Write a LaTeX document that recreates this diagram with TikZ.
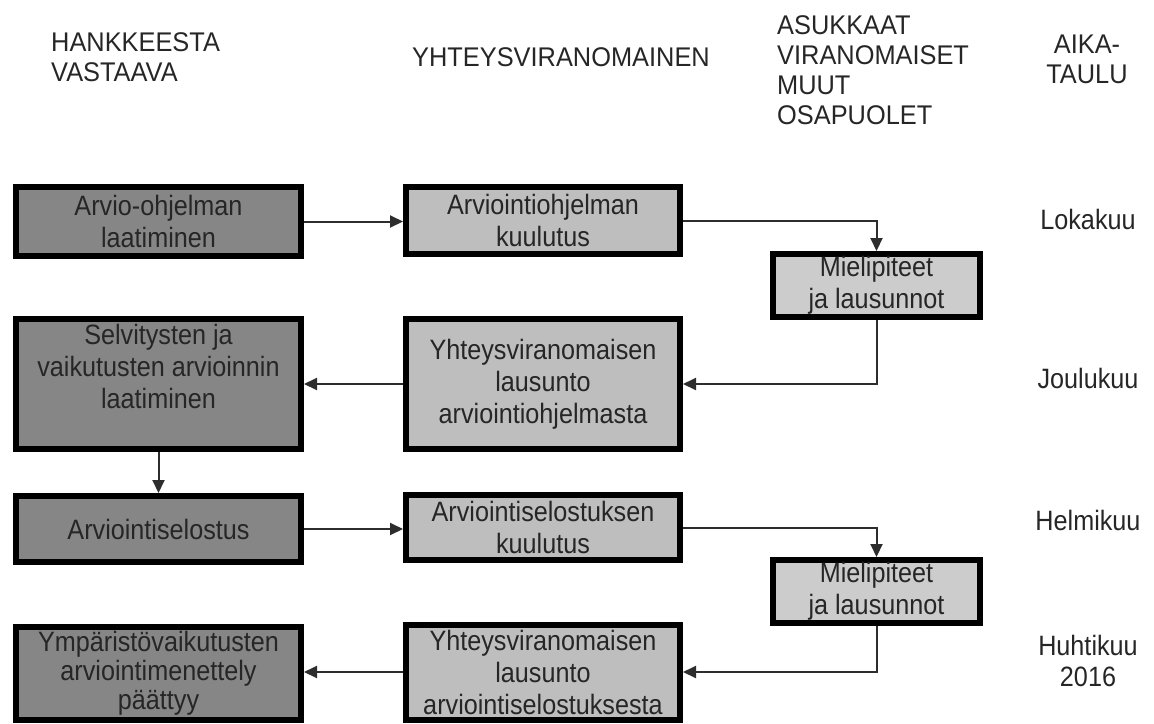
\documentclass[tikz,border=0pt]{standalone}
\usepackage{fontspec}
\setmainfont{Liberation Sans}
\newfontfamily\boxfont[FakeStretch=0.9]{Liberation Sans}
\newfontfamily\headfont[FakeStretch=0.94]{Liberation Sans}
\usetikzlibrary{arrows.meta,positioning}
\definecolor{darkbox}{RGB}{134,134,134}
\definecolor{lightbox}{RGB}{190,190,190}
\definecolor{opinbox}{RGB}{204,204,204}
\definecolor{wire}{RGB}{45,45,45}
\begin{document}
\begin{tikzpicture}[x=1pt,y=-1pt,
    phase/.style={draw=black, line width=6pt, align=center, inner sep=1pt,
      text=black!85, font=\boxfont\fontsize{28}{32}\selectfont},
    own/.style={phase, fill=darkbox, minimum width=285pt},
    auth/.style={phase, fill=lightbox, minimum width=274pt},
    opin/.style={phase, fill=opinbox, minimum width=207pt, minimum height=63pt},
    head/.style={inner sep=0pt, align=left, text=black!85, font=\headfont\fontsize{27}{30}\selectfont},
    month/.style={inner sep=0pt, align=center, text=black!85, font=\boxfont\fontsize{28}{31}\selectfont},
    flow/.style={draw=wire, line width=2pt, -{Triangle[length=13pt,width=12pt]}}]
  \useasboundingbox (0,0) rectangle (1154,723);

  % the column headers
  \node[head, anchor=north west] (hank) at (51,32) {HANKKEESTA\\VASTAAVA};
  \node[head, anchor=north west] (yht) at (412,47) {YHTEYSVIRANOMAINEN};
  \node[head, anchor=north west] (asuk) at (777,15) {ASUKKAAT\\VIRANOMAISET\\MUUT\\OSAPUOLET};
  \node[head, anchor=north, align=center] (aika) at (1087,35) {AIKA-\\TAULU};

  % the boxes
  \node[own, minimum height=69pt] (own1) at (158.5,221.5) {Arvio-ohjelman\\laatiminen};
  \node[auth, minimum height=67pt] (auth1) at (543,220.5) {Arviointiohjelman\\kuulutus};
  \node[opin] (opin1) at (876.5,285.5) {Mielipiteet\\ja lausunnot};
  \node[own, minimum height=130pt, text depth=36pt] (own2) at (158.5,384) {Selvitysten ja\\vaikutusten arvioinnin\\laatiminen};
  \node[auth, minimum height=130pt] (auth2) at (543,384) {Yhteysviranomaisen\\lausunto\\arviointiohjelmasta};
  \node[own, minimum height=66pt] (own3) at (158.5,529) {Arviointiselostus};
  \node[auth, minimum height=65pt] (auth3) at (543,527.5) {Arviointiselostuksen\\kuulutus};
  \node[opin] (opin2) at (876.5,591.5) {Mielipiteet\\ja lausunnot};
  \node[own, minimum height=93pt, font=\boxfont\fontsize{28}{29}\selectfont] (own4) at (158.5,673) {Ympäristövaikutusten\\arviointimenettely\\päättyy};
  \node[auth, minimum height=95pt] (auth4) at (543,672) {Yhteysviranomaisen\\lausunto\\arviointiselostuksesta};

  % the time column
  \foreach \n/\y/\m in {1/219/Lokakuu, 2/378/Joulukuu, 3/520/Helmikuu, 4/661/{Huhtikuu\\2016}}
    \node[month] (month\n) at (1088,\y) {\m};

  % the arrows
  \draw[flow] (own1.east) -- (own1.east -| auth1.west);
  \draw[flow] (auth1.east) -| (opin1.north);
  \draw[flow] (opin1.south) |- (auth2.east);
  \draw[flow] (auth2.west) -- (auth2.west -| own2.east);
  \draw[flow] (own2.south) -- (own3.north);
  \draw[flow] (own3.east) -- (own3.east -| auth3.west);
  \draw[flow] (auth3.east) -| (opin2.north);
  \draw[flow] (opin2.south) |- (auth4.east);
  \draw[flow] (auth4.west) -- (auth4.west -| own4.east);
\end{tikzpicture}
\end{document}
